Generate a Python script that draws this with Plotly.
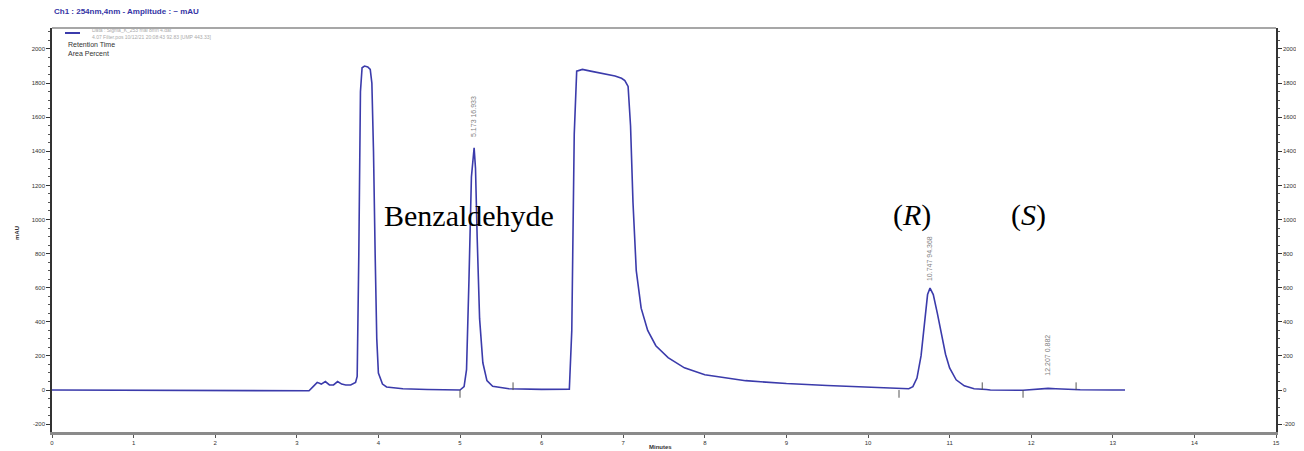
import plotly.graph_objects as go

# ---- data ----
time_min = [0.0, 1.0, 2.0, 3.0, 3.15, 3.2, 3.25, 3.3, 3.35, 3.4, 3.45, 3.5, 3.55, 3.6, 3.66,
            3.72, 3.74, 3.76, 3.78, 3.8, 3.83, 3.87, 3.9, 3.92, 3.94, 3.96, 3.98, 4.0, 4.05,
            4.1, 4.3, 4.6, 4.9,
            5.0, 5.05, 5.08, 5.11, 5.14, 5.173, 5.19, 5.21, 5.24, 5.28, 5.33, 5.4, 5.6, 6.0, 6.3,
            6.34, 6.37, 6.4, 6.43, 6.5, 6.6, 6.7, 6.8, 6.9, 6.98, 7.02, 7.06, 7.09, 7.12, 7.16,
            7.22, 7.3, 7.4, 7.55, 7.75, 8.0, 8.5, 9.0, 9.5, 10.0, 10.4, 10.5, 10.55, 10.6, 10.65,
            10.7, 10.73, 10.76, 10.8, 10.85, 10.9, 10.95, 11.0, 11.08, 11.18, 11.3, 11.45, 11.5,
            11.9, 12.0, 12.1, 12.207, 12.3, 12.45, 12.6, 13.0, 13.15]
signal_mau = [0, -2, -4, -5, -4, 20, 45, 35, 50, 30, 30, 50, 35, 30, 30,
              45, 80, 800, 1750, 1890, 1900, 1895, 1880, 1800, 1400, 800, 300, 100, 35,
              18, 8, 3, 0,
              0, 20, 120, 650, 1250, 1420, 1300, 900, 420, 160, 55, 22, 8, 4, 3,
              5, 350, 1500, 1870, 1880, 1870, 1862, 1852, 1842, 1828, 1815, 1780, 1550, 1100, 700,
              480, 350, 260, 190, 130, 90, 55, 38, 27, 19, 10, 8, 20, 70, 200,
              420, 560, 598, 560, 450, 320, 210, 130, 60, 25, 8, 3, 0,
              -1, 3, 6, 10, 8, 4, 2, 0, 0]

# integration event marks (time, direction: +1 above / -1 below baseline)
event_times = [5.0, 5.65, 10.38, 11.4, 11.9, 12.55]
event_dirs = [-1, 1, -1, 1, -1, 1]

# peak labels (retention time, area percent)
peak_rt = [5.173, 10.747, 12.207]
peak_area = ["16.933", "94.368", "0.882"]
peak_label_y = [1470, 630, 70]

# compound names
compound_names = ["Benzaldehyde", "(<i>R</i>)", "(<i>S</i>)"]
compound_x = [5.11, 10.54, 11.97]
compound_y = [1026, 1026, 1026]

x_ticks = list(range(0, 16))
y_ticks = [-200, 0, 200, 400, 600, 800, 1000, 1200, 1400, 1600, 1800, 2000]

Y_RANGE = [-246, 2123]
X_RANGE = [0, 15]
LINE_COLOR = "#3b3bab"

fig = go.Figure()

fig.add_trace(go.Scatter(x=time_min, y=signal_mau, mode="lines",
                         line=dict(color=LINE_COLOR, width=1.6), showlegend=False,
                         hoverinfo="skip"))

# event marks
ev_x, ev_y = [], []
for t, d in zip(event_times, event_dirs):
    ev_x += [t, t, None]
    ev_y += [0, d * 45, None]
fig.add_trace(go.Scatter(x=ev_x, y=ev_y, mode="lines",
                         line=dict(color="#555555", width=1), showlegend=False,
                         hoverinfo="skip"))

# dummy trace for right axis
fig.add_trace(go.Scatter(x=[None], y=[None], yaxis="y2", showlegend=False))

tickfont = dict(family="Arial", size=6, color="#333333")

fig.update_layout(
    width=1296, height=443,
    margin=dict(l=44, r=28, t=20, b=19),
    paper_bgcolor="white", plot_bgcolor="white",
    xaxis=dict(range=X_RANGE, tickvals=x_ticks, ticktext=[str(v) for v in x_ticks],
               showgrid=False, zeroline=False, showline=True, linecolor="#8a8a8a",
               linewidth=3, ticks="outside", ticklen=3, tickcolor="#555",
               tickfont=tickfont, mirror=False, automargin=False),
    yaxis=dict(range=Y_RANGE, tickvals=y_ticks, ticktext=[str(v) for v in y_ticks],
               showgrid=False, zeroline=False, showline=True, linecolor="#333",
               linewidth=1.5, ticks="outside", ticklen=4, tickcolor="#333",
               tickfont=tickfont, automargin=False,
               minor=dict(ticks="outside", ticklen=2, dtick=50, tickcolor="#555")),
    yaxis2=dict(range=Y_RANGE, tickvals=y_ticks, ticktext=[str(v) for v in y_ticks],
                overlaying="y", side="right", showgrid=False, zeroline=False,
                showline=True, linecolor="#333", linewidth=1.5, ticks="outside",
                ticklen=4, tickcolor="#333", tickfont=tickfont, automargin=False,
                minor=dict(ticks="outside", ticklen=2, dtick=50, tickcolor="#555")),
)

# top frame line
fig.add_shape(type="line", xref="paper", yref="paper", x0=0, x1=1, y0=1, y1=1,
              line=dict(color="#8a8a8a", width=1.5))

PW, PH = 1224.0, 404.0  # plot area size in px (left=52, bottom=432 on screen)


def px(xp):
    return (xp - 52) / PW


def py(yp):
    return (432 - yp) / PH


# peak labels
for rt, ap, ly in zip(peak_rt, peak_area, peak_label_y):
    fig.add_annotation(x=rt, y=ly, xref="x", yref="y", text=f"{rt:.3f} {ap}",
                       textangle=-90, showarrow=False, xanchor="center", yanchor="bottom",
                       font=dict(family="Arial", size=7, color="#808080"))

# compound names
for name, cx, cy in zip(compound_names, compound_x, compound_y):
    fig.add_annotation(x=cx, y=cy, xref="x", yref="y", text=name, showarrow=False,
                       font=dict(family="Liberation Serif", size=30, color="black"))

# header
fig.add_annotation(x=px(52), y=py(12), xref="paper", yref="paper",
                   text="<b>Ch1 : 254nm,4nm - Amplitude : ~ mAU</b>",
                   showarrow=False, xanchor="left", yanchor="middle",
                   font=dict(family="Arial", size=8, color="#3535a5"))

# legend box content
fig.add_shape(type="line", xref="paper", yref="paper",
              x0=px(65), x1=px(80), y0=py(33), y1=py(33),
              line=dict(color=LINE_COLOR, width=2))
fig.add_annotation(x=px(90), y=py(33), xref="paper", yref="paper",
                   text="Data : Sigma_K_253 mai 8mn 4.dat<br>4.07 Filter.pos 10/12/21 20:08:43 92.83 [UMP 443.33]",
                   showarrow=False, xanchor="left", yanchor="middle", align="left",
                   font=dict(family="Arial", size=5, color="#aaaaaa"))
fig.add_annotation(x=px(66), y=py(44), xref="paper", yref="paper",
                   text="Retention Time", showarrow=False, xanchor="left", yanchor="middle",
                   font=dict(family="Arial", size=7, color="#333333"))
fig.add_annotation(x=px(66), y=py(53), xref="paper", yref="paper",
                   text="Area Percent", showarrow=False, xanchor="left", yanchor="middle",
                   font=dict(family="Arial", size=7, color="#333333"))

# axis titles
fig.add_annotation(x=px(12), y=py(233), xref="paper", yref="paper",
                   text="<b>mAU</b>", textangle=-90, showarrow=False,
                   font=dict(family="Arial", size=6, color="#333"))
fig.add_annotation(x=px(660), y=py(447), xref="paper", yref="paper",
                   text="<b>Minutes</b>", showarrow=False, yanchor="middle",
                   font=dict(family="Arial", size=6, color="#333"))

fig.write_html("out.html")
